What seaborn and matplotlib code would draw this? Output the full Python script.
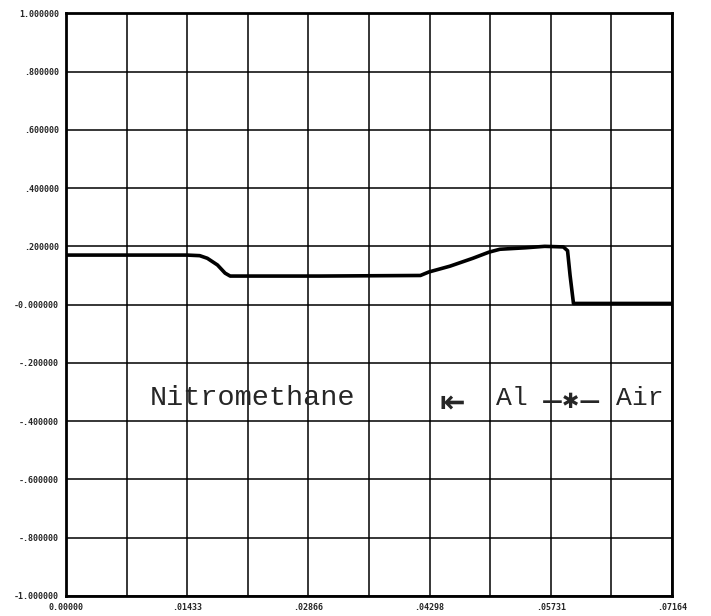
import matplotlib
matplotlib.use("Agg")
import matplotlib.pyplot as plt
import seaborn as sns
import pandas as pd
import numpy as np

# curve
distance = [0.0, 0.0143, 0.0158, 0.0167, 0.0179, 0.0188, 0.0194, 0.0300, 0.0419,
            0.0429, 0.0454, 0.0481, 0.0500, 0.0513, 0.0543, 0.0566, 0.0588,
            0.0593, 0.0596, 0.0600, 0.0717]
value = [0.170, 0.170, 0.168, 0.159, 0.136, 0.108, 0.098, 0.098, 0.100,
         0.112, 0.132, 0.159, 0.180, 0.190, 0.195, 0.200, 0.198,
         0.185, 0.100, 0.004, 0.004]

x_ticklabels = ["0.00000", "", ".01433", "", ".02866", "", ".04298", "",
                ".05731", "", ".07164"]
y_ticklabels = ["-1.000000", "-.800000", "-.600000", "-.400000", "-.200000",
                "-0.000000", ".200000", ".400000", ".600000", ".800000", "1.000000"]

x_max = 0.07164
df = pd.DataFrame({"distance": distance, "value": value})

sns.set_style("white")
fig = plt.figure(figsize=(7.11, 6.16), dpi=100)
ax = fig.add_axes([0.093, 0.0325, 0.852, 0.946])

sns.lineplot(data=df, x="distance", y="value", color="black", linewidth=2.6, ax=ax)

ax.set_xlim(0, x_max)
ax.set_ylim(-1, 1)
ax.set_xticks(np.linspace(0, x_max, 11))
ax.set_yticks(np.linspace(-1, 1, 11))
ax.set_xticklabels(x_ticklabels)
ax.set_yticklabels(y_ticklabels)
ax.grid(True, color="black", linewidth=1.1)
ax.set_xlabel("")
ax.set_ylabel("")
for side in ax.spines.values():
    side.set_color("black")
    side.set_linewidth(2)
ax.tick_params(axis="both", length=3, width=1.5, color="black", pad=2,
               labelsize=6)
for lab in ax.get_xticklabels() + ax.get_yticklabels():
    lab.set_family("DejaVu Sans Mono")
    lab.set_fontweight("bold")

# material labels
mono = "Liberation Mono"
ax.text(0.0099, -0.32, "Nitromethane", family=mono, fontsize=20.5,
        va="center", ha="left")
ax.text(0.0441, -0.34, "\u21e4", family="DejaVu Sans", fontsize=22,
        va="center", ha="left", fontweight="bold")
ax.text(0.0508, -0.32, "Al", family=mono, fontsize=19, va="center", ha="left")
ax.text(0.0598, -0.335, "\u2014\u2731\u2014", family="DejaVu Sans", fontsize=15,
        va="center", ha="center", fontweight="bold")
ax.text(0.0650, -0.32, "Air", family=mono, fontsize=19, va="center", ha="left")

fig.savefig("out.png", dpi=100)
